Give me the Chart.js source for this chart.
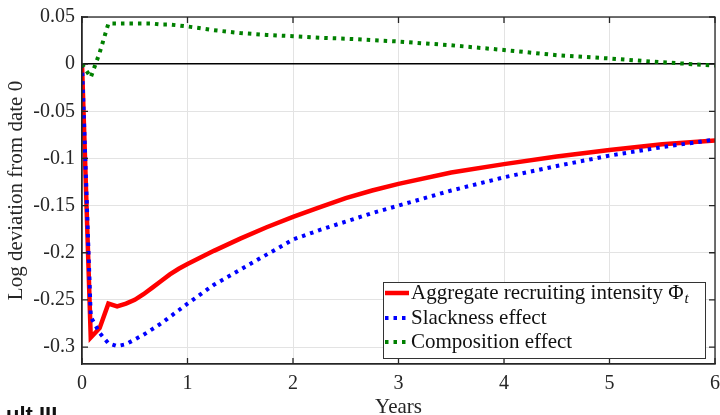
<!DOCTYPE html>
<html>
<head>
<meta charset="utf-8">
<script src="https://cdn.jsdelivr.net/npm/chart.js@4/dist/chart.umd.min.js"></script>
<style>
  body { margin: 0; background: #fff; overflow: hidden; }
  #wrap { position: relative; width: 720px; height: 415px; overflow: hidden; }
  #cut { position: absolute; left: 6px; top: 402px; font: bold 22px "Liberation Sans", sans-serif; color: #111; white-space: nowrap; }
</style>
</head>
<body>
<div id="wrap">
  <canvas id="myChart" width="720" height="415"></canvas>
  <div id="cut">ult III</div>
</div>
<script>
// Anni dopo lo shock
const years = [0, 0.083, 0.167, 0.25, 0.333, 0.417, 0.5, 0.583, 0.667, 0.75, 0.833, 0.917, 1,
               1.25, 1.5, 1.75, 2, 2.25, 2.5, 2.75, 3, 3.5, 4, 4.5, 5, 5.5, 6];

// Aggregate recruiting intensity
const aggregate = [0, -0.290, -0.280, -0.254, -0.257, -0.254, -0.250, -0.244, -0.237, -0.230, -0.223, -0.217, -0.212,
                   -0.198, -0.185, -0.173, -0.162, -0.152, -0.142, -0.134, -0.127, -0.115, -0.106, -0.098, -0.091, -0.085, -0.081];

// Slackness effect
const slackness = [0, -0.268, -0.285, -0.296, -0.299, -0.297, -0.292, -0.287, -0.281, -0.275, -0.268, -0.261, -0.254,
                   -0.234, -0.218, -0.202, -0.186, -0.176, -0.167, -0.158, -0.150, -0.134, -0.120, -0.108, -0.097, -0.088, -0.080];

// Composition effect
const composition = [0, -0.014, 0.012, 0.043, 0.043, 0.043, 0.043, 0.043, 0.043, 0.042, 0.042, 0.041, 0.040,
                     0.036, 0.033, 0.031, 0.0296, 0.028, 0.027, 0.0255, 0.024, 0.020, 0.015, 0.0095, 0.006, 0.002, -0.0015];

const labels = ['Aggregate recruiting intensity \u03A6', 'Slackness effect', 'Composition effect'];

const xTicks = [0, 1, 2, 3, 4, 5, 6];
const yTicks = [0.05, 0, -0.05, -0.1, -0.15, -0.2, -0.25, -0.3];

const SERIF = '"Liberation Serif", "Times New Roman", serif';

function toPoints(ys) {
    return years.map((x, i) => ({ x: x, y: ys[i] }));
}

// Box, tick interni e legenda
const boxPlugin = {
    id: 'boxPlugin',
    afterDraw(chart) {
        const { ctx, chartArea: a, scales } = chart;
        ctx.save();
        ctx.strokeStyle = '#262626';
        ctx.lineWidth = 1.3;
        ctx.strokeRect(a.left, a.top, a.right - a.left, a.bottom - a.top);

        ctx.beginPath();
        xTicks.forEach(v => {
            const px = scales.x.getPixelForValue(v);
            ctx.moveTo(px, a.bottom); ctx.lineTo(px, a.bottom - 6);
            ctx.moveTo(px, a.top); ctx.lineTo(px, a.top + 6);
        });
        yTicks.forEach(v => {
            const py = scales.y.getPixelForValue(v);
            ctx.moveTo(a.left, py); ctx.lineTo(a.left + 6, py);
            ctx.moveTo(a.right, py); ctx.lineTo(a.right - 6, py);
        });
        ctx.stroke();

        // legenda
        const lx = 383, ly = 282, lw = 322, lh = 76;
        ctx.fillStyle = '#fff';
        ctx.fillRect(lx, ly, lw, lh);
        ctx.strokeStyle = '#333';
        ctx.lineWidth = 1;
        ctx.strokeRect(lx + 0.5, ly + 0.5, lw, lh);

        const rows = [293, 318, 342];
        chart.data.datasets.forEach((ds, i) => {
            const y = rows[i];
            ctx.beginPath();
            ctx.strokeStyle = ds.borderColor;
            ctx.lineWidth = ds.borderWidth;
            ctx.setLineDash(ds.borderDash || []);
            ctx.moveTo(385, y); ctx.lineTo(409, y);
            ctx.stroke();
            ctx.setLineDash([]);

            ctx.fillStyle = '#111';
            ctx.font = '21px ' + SERIF;
            ctx.textBaseline = 'middle';
            ctx.textAlign = 'left';
            ctx.fillText(ds.label, 411, y);
            if (i === 0) {
                const w = ctx.measureText(ds.label).width;
                ctx.font = 'italic 15px ' + SERIF;
                ctx.fillText('t', 411 + w + 1, y + 6);
            }
        });
        ctx.restore();
    }
};

function makeChart() {
    const ctx = document.getElementById('myChart');
    new Chart(ctx, {
        type: 'line',
        data: {
            datasets: [{
                label: labels[0],
                data: toPoints(aggregate),
                borderColor: '#ff0000',
                borderWidth: 4.5,
                order: 3
            }, {
                label: labels[1],
                data: toPoints(slackness),
                borderColor: '#0000ff',
                borderWidth: 4,
                borderDash: [3.5, 5],
                order: 2
            }, {
                label: labels[2],
                data: toPoints(composition),
                borderColor: '#008000',
                borderWidth: 4,
                borderDash: [3.5, 5],
                order: 1
            }]
        },
        options: {
            responsive: false,
            animation: false,
            layout: {
                padding: { top: 17, right: 5, left: 0, bottom: 0 }
            },
            elements: {
                point: { radius: 0, hoverRadius: 0 },
                line: { tension: 0, fill: false, borderCapStyle: 'butt', borderJoinStyle: 'miter' }
            },
            plugins: {
                legend: { display: false },
                tooltip: { enabled: false }
            },
            scales: {
                x: {
                    type: 'linear',
                    min: 0,
                    max: 6,
                    afterFit: s => { s.height = 51; s.paddingRight = 0; s.paddingLeft = 0; },
                    afterBuildTicks: s => { s.ticks = xTicks.map(v => ({ value: v })); },
                    grid: { color: '#e3e3e3', drawTicks: false },
                    border: { color: '#262626', width: 1.3 },
                    ticks: {
                        padding: 8,
                        color: '#262626',
                        font: { family: SERIF, size: 20 },
                        maxRotation: 0
                    },
                    title: {
                        display: true,
                        text: 'Years',
                        color: '#262626',
                        font: { family: SERIF, size: 21 },
                        padding: { top: 0, bottom: -5 }
                    }
                },
                y: {
                    min: -0.318,
                    max: 0.05,
                    afterFit: s => { s.width = 82; s.paddingTop = 0; s.paddingBottom = 0; },
                    afterBuildTicks: s => { s.ticks = yTicks.map(v => ({ value: v })); },
                    grid: {
                        color: c => (c.tick && c.tick.value === 0) ? '#000' : '#e3e3e3',
                        lineWidth: c => (c.tick && c.tick.value === 0) ? 1.6 : 1,
                        drawTicks: false
                    },
                    border: { color: '#262626', width: 1.3 },
                    ticks: {
                        padding: 7,
                        color: '#262626',
                        font: { family: SERIF, size: 20 },
                        callback: v => String(parseFloat(v.toFixed(2)))
                    },
                    title: {
                        display: true,
                        text: 'Log deviation from date 0',
                        color: '#262626',
                        font: { family: SERIF, size: 21 },
                        padding: { top: 4, bottom: 0 }
                    }
                }
            }
        },
        plugins: [boxPlugin]
    });
}

document.addEventListener('DOMContentLoaded', makeChart);
</script>
</body>
</html>
